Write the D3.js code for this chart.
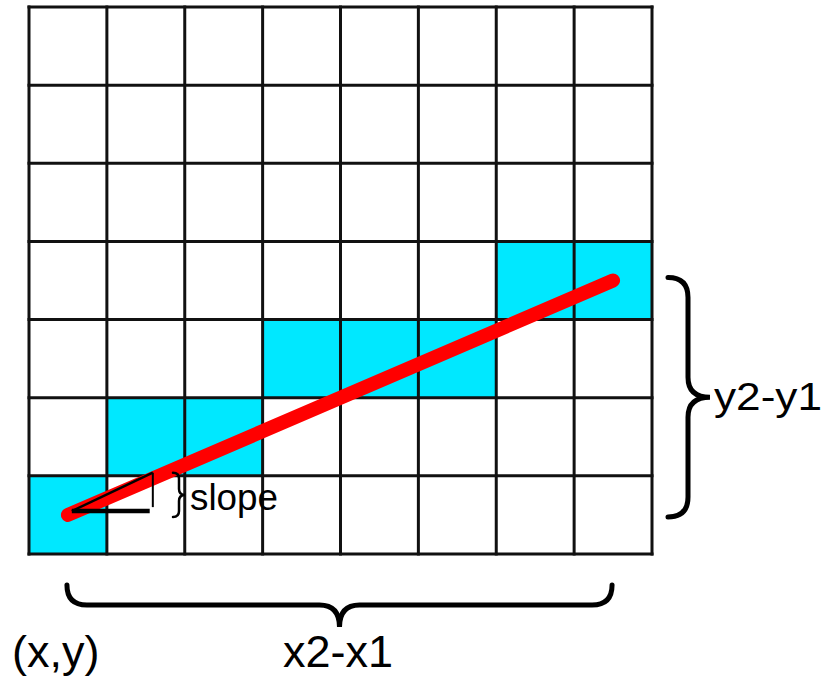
<!DOCTYPE html>
<html>
<head>
<meta charset="utf-8">
<script src="https://cdn.jsdelivr.net/npm/d3@7"></script>
<style>
  body { margin: 0; background: #fff; }
  text { font-family: "Liberation Sans", Arial, sans-serif; fill: #000; }
</style>
</head>
<body>
<div id="chart"></div>
<script>
// grid size (cells)
var nCols = 8, nRows = 7;

// cells lit by the rasterised line, [col, row] counted from bottom-left
var litCells = [[0, 0], [1, 1], [2, 1], [3, 2], [4, 2], [5, 2], [6, 3], [7, 3]];

// the ideal line, in grid units
var lineStart = [0.5, 0.5];
var lineEnd = [7.5, 3.5];

// little slope triangle, in grid units
var slopeBase = [[0.55, 0.55], [1.55, 0.55]];
var slopeRise = [[1.59, 0.6], [1.59, 1.04]];

var labelStart = "(x,y)", labelDx = "x2-x1", labelDy = "y2-y1", labelSlope = "slope";

var width = 827, height = 681;

var svg = d3.select("#chart")
    .append("svg")
    .attr("width", width)
    .attr("height", height);

var x = d3.scaleLinear().domain([0, nCols]).range([29, 652]);
var y = d3.scaleLinear().domain([0, nRows]).range([554, 7]);

// filled cells
svg.append("g")
    .selectAll("rect")
    .data(litCells)
    .enter()
    .append("rect")
    .attr("x", d => x(d[0]))
    .attr("y", d => y(d[1] + 1))
    .attr("width", x(1) - x(0))
    .attr("height", y(0) - y(1))
    .style("fill", "#00e8ff");

// grid lines
var grid = svg.append("g")
    .attr("stroke", "#111")
    .attr("stroke-width", 3);

grid.selectAll(".v")
    .data(d3.range(nCols + 1))
    .enter()
    .append("line")
    .attr("x1", d => x(d)).attr("x2", d => x(d))
    .attr("y1", y(0) + 1.5).attr("y2", y(nRows) - 1.5);

grid.selectAll(".h")
    .data(d3.range(nRows + 1))
    .enter()
    .append("line")
    .attr("y1", d => y(d)).attr("y2", d => y(d))
    .attr("x1", x(0) - 1.5).attr("x2", x(nCols) + 1.5);

// red line
svg.append("line")
    .attr("x1", x(lineStart[0])).attr("y1", y(lineStart[1]))
    .attr("x2", x(lineEnd[0])).attr("y2", y(lineEnd[1]))
    .attr("stroke", "#ff0000")
    .attr("stroke-width", 14)
    .attr("stroke-linecap", "round");

// slope triangle
svg.append("line")
    .attr("x1", x(slopeBase[0][0])).attr("y1", y(slopeBase[0][1]))
    .attr("x2", x(slopeBase[1][0])).attr("y2", y(slopeBase[1][1]))
    .attr("stroke", "#000").attr("stroke-width", 4.5);
svg.append("line")
    .attr("x1", x(slopeBase[0][0])).attr("y1", y(slopeBase[0][1]))
    .attr("x2", x(slopeRise[1][0])).attr("y2", y(slopeRise[1][1]))
    .attr("stroke", "#000").attr("stroke-width", 2.5);
svg.append("line")
    .attr("x1", x(slopeRise[0][0])).attr("y1", y(slopeRise[0][1]))
    .attr("x2", x(slopeRise[1][0])).attr("y2", y(slopeRise[1][1]))
    .attr("stroke", "#000").attr("stroke-width", 2);

// curly brace from p1 to p2, bulging towards normal n
function brace(p1, p2, n, w, r) {
    var dx = p2[0] - p1[0], dy = p2[1] - p1[1];
    var L = Math.sqrt(dx * dx + dy * dy);
    var ux = dx / L, uy = dy / L;
    function P(a, b) {
        return (p1[0] + ux * a + n[0] * b) + "," + (p1[1] + uy * a + n[1] * b);
    }
    var m = L / 2;
    return "M" + P(0, 0) +
        " Q" + P(0, r) + " " + P(r, r) +
        " L" + P(m - r, r) +
        " Q" + P(m, r) + " " + P(m, w) +
        " Q" + P(m, r) + " " + P(m + r, r) +
        " L" + P(L - r, r) +
        " Q" + P(L, r) + " " + P(L, 0);
}

var braces = svg.append("g")
    .attr("fill", "none")
    .attr("stroke", "#000")
    .attr("stroke-linecap", "round");

// right brace (dy)
braces.append("path")
    .attr("d", brace([x(nCols) + 16, y(lineEnd[1]) - 3], [x(nCols) + 16, y(lineStart[1]) + 2], [1, 0], 42, 20))
    .attr("stroke-width", 5);

// bottom brace (dx)
braces.append("path")
    .attr("d", brace([x(lineStart[0]) - 1, y(0) + 31], [x(lineEnd[0]) - 1, y(0) + 31], [0, 1], 42, 20))
    .attr("stroke-width", 5);

// small brace by the slope triangle
braces.append("path")
    .attr("d", brace([173, y(slopeRise[1][1])], [173, y(slopeRise[0][1]) + 10], [1, 0], 12, 6))
    .attr("stroke-width", 2.5);

// labels
svg.append("text").attr("x", 12).attr("y", 667)
    .attr("font-size", 45).text(labelStart);
svg.append("text").attr("x", 283).attr("y", 667)
    .attr("font-size", 45).text(labelDx);
svg.append("text").attr("x", 714).attr("y", 410)
    .attr("font-size", 39)
    .attr("textLength", 108).attr("lengthAdjust", "spacingAndGlyphs")
    .text(labelDy);
svg.append("text").attr("x", 190).attr("y", 510)
    .attr("font-size", 36)
    .attr("textLength", 88).attr("lengthAdjust", "spacingAndGlyphs")
    .text(labelSlope);
</script>
</body>
</html>
